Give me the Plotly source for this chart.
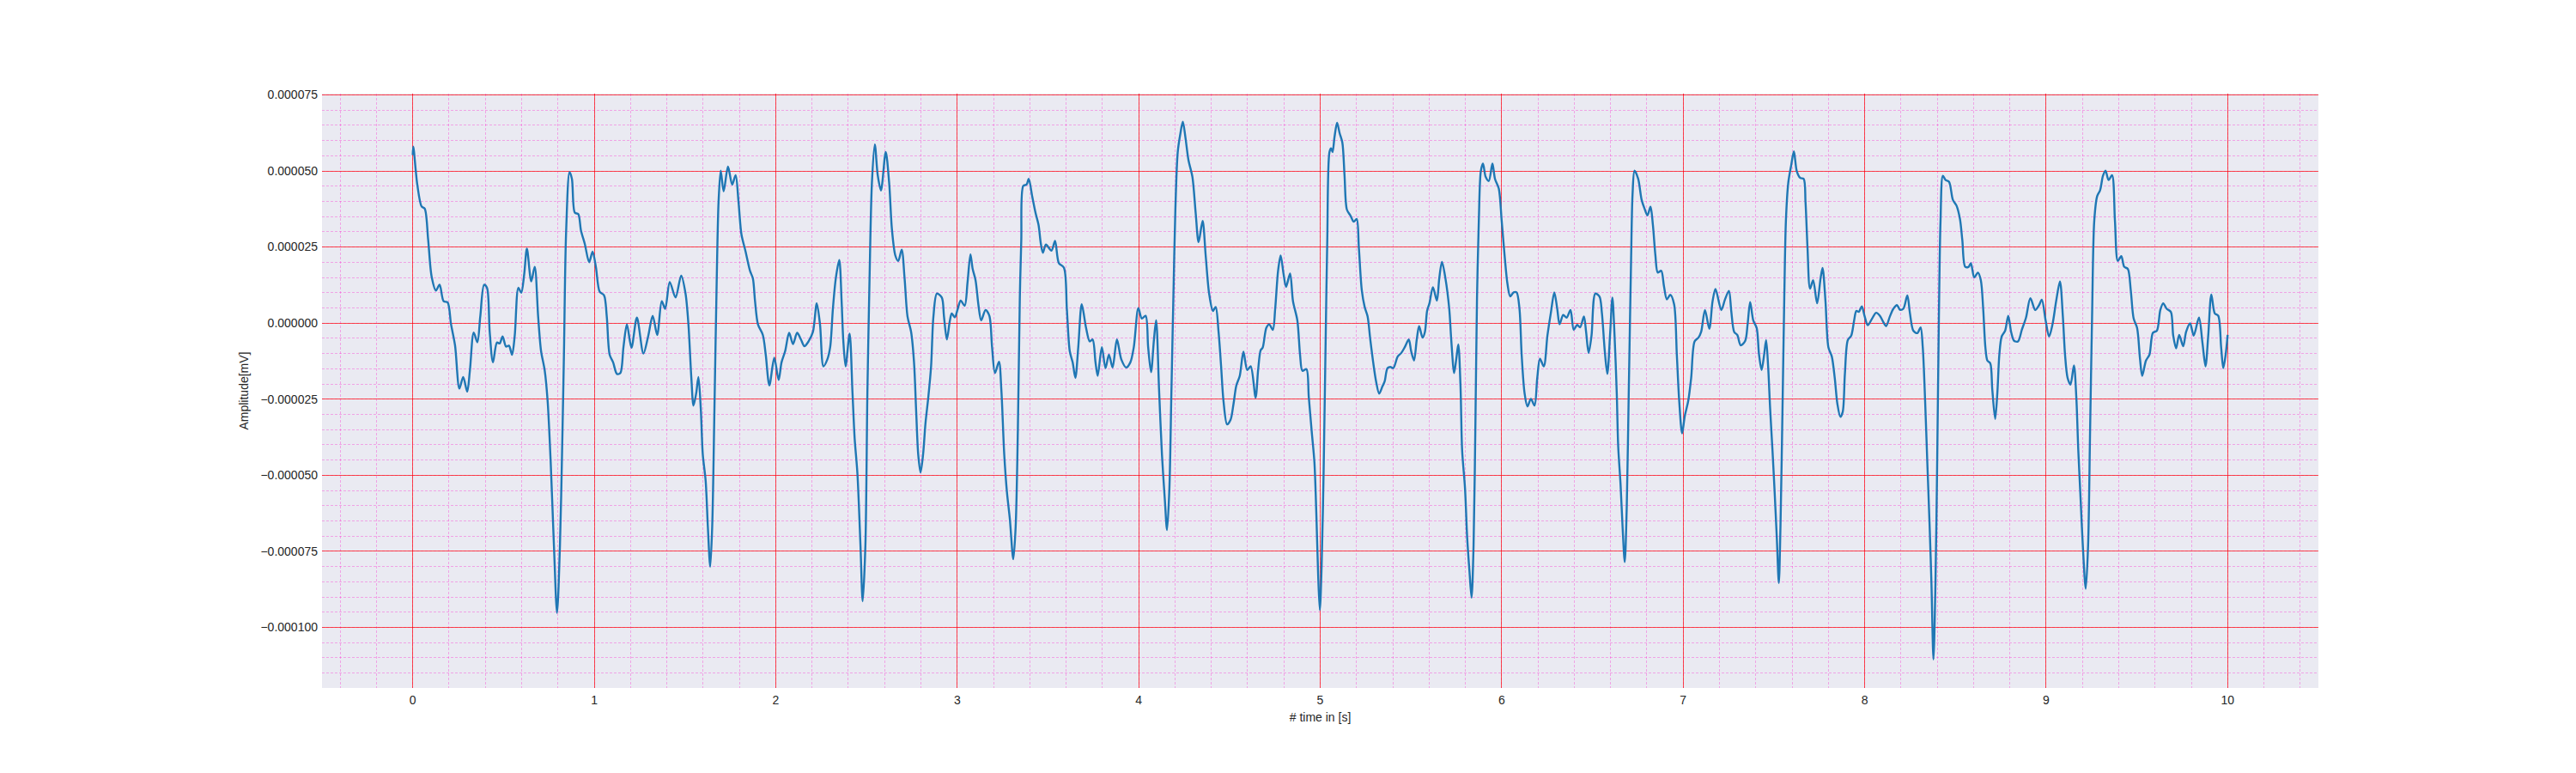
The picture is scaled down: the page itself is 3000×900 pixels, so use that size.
import plotly.graph_objects as go

# ECG trace; amplitude in units of 1e-6 mV
time_s = [
    0.000, 0.003, 0.025, 0.049, 0.066, 0.085, 0.104, 0.128, 0.148, 0.170,
    0.192, 0.211, 0.233, 0.257, 0.278, 0.300, 0.315, 0.336, 0.356, 0.372,
    0.393, 0.409, 0.424, 0.442, 0.464, 0.479, 0.495, 0.514, 0.530, 0.547,
    0.562, 0.582, 0.598, 0.614, 0.629, 0.653, 0.672, 0.691, 0.707, 0.727,
    0.743, 0.760, 0.778, 0.795, 0.811, 0.823, 0.833, 0.845, 0.864, 0.877,
    0.893, 0.912, 0.927, 0.948, 0.972, 0.991, 1.009, 1.030,
    1.054, 1.069, 1.085, 1.104, 1.125, 1.144, 1.161, 1.180, 1.205, 1.235,
    1.271, 1.298, 1.322, 1.347, 1.372, 1.391, 1.416, 1.448, 1.479, 1.503,
    1.519, 1.535, 1.547, 1.562, 1.574, 1.587, 1.598, 1.614, 1.626, 1.639,
    1.650, 1.662, 1.675, 1.685, 1.697, 1.713, 1.737, 1.760, 1.779, 1.795,
    1.811, 1.834, 1.858, 1.874, 1.886, 1.902, 1.929, 1.945, 1.965, 1.992,
    2.016, 2.032, 2.052, 2.074, 2.095, 2.118, 2.139, 2.158, 2.181, 2.205,
    2.226, 2.244, 2.263, 2.284, 2.300, 2.315, 2.331, 2.350,
    2.363, 2.372, 2.385, 2.407, 2.423, 2.435, 2.450, 2.467, 2.479, 2.494,
    2.505, 2.517, 2.530, 2.546, 2.562, 2.580, 2.606, 2.625, 2.640, 2.659,
    2.675, 2.694, 2.710, 2.726, 2.746, 2.762, 2.774, 2.785, 2.798, 2.812,
    2.825, 2.841, 2.856, 2.869, 2.888, 2.915, 2.927, 2.943, 2.959, 2.970,
    2.987, 3.003, 3.019, 3.041, 3.057, 3.073, 3.085, 3.101, 3.117, 3.132,
    3.156, 3.177, 3.192, 3.208, 3.230, 3.243, 3.259, 3.274, 3.290, 3.309,
    3.322, 3.334, 3.345, 3.353, 3.364, 3.382, 3.394, 3.413, 3.432, 3.448,
    3.461, 3.472, 3.489,
    3.519, 3.539, 3.560, 3.588, 3.604, 3.620, 3.636, 3.651, 3.667, 3.686,
    3.710, 3.730, 3.746, 3.762, 3.774, 3.797, 3.817, 3.836, 3.856, 3.880,
    3.904, 3.931, 3.954, 3.973, 3.998, 4.017, 4.038, 4.052, 4.068, 4.084,
    4.096, 4.112, 4.128, 4.144, 4.156, 4.169, 4.180, 4.191, 4.202, 4.215,
    4.230, 4.243, 4.257, 4.274, 4.296, 4.314, 4.330, 4.352, 4.369, 4.388,
    4.409, 4.424, 4.440, 4.454, 4.467, 4.487, 4.506, 4.522, 4.538, 4.557,
    4.577, 4.598, 4.617, 4.644, 4.658, 4.672, 4.683, 4.703, 4.719,
    4.739, 4.752, 4.768, 4.782, 4.798, 4.812, 4.834, 4.850, 4.874, 4.889,
    4.902, 4.924, 4.937, 4.953, 4.968, 4.979, 4.989, 4.998, 5.008, 5.019,
    5.032, 5.039, 5.051, 5.060, 5.068, 5.079, 5.093, 5.107, 5.122, 5.134,
    5.147, 5.166, 5.185, 5.201, 5.213, 5.229, 5.245, 5.261, 5.276, 5.292,
    5.308, 5.325, 5.343, 5.355, 5.371, 5.387, 5.403, 5.427, 5.447, 5.466,
    5.488, 5.501, 5.517, 5.532, 5.545, 5.564, 5.577, 5.589, 5.602, 5.621,
    5.643, 5.656, 5.671, 5.690, 5.711, 5.722, 5.738, 5.750, 5.761, 5.773,
    5.782, 5.798, 5.810, 5.823, 5.834, 5.845, 5.856, 5.864, 5.874, 5.885,
    5.897, 5.912, 5.929, 5.949, 5.963,
    5.984, 6.000, 6.016, 6.032, 6.047, 6.066, 6.082, 6.098, 6.110, 6.126,
    6.142, 6.161, 6.181, 6.196, 6.211, 6.232, 6.252, 6.271, 6.290, 6.306,
    6.319, 6.339, 6.358, 6.379, 6.397, 6.416, 6.432, 6.453, 6.465, 6.479,
    6.495, 6.516, 6.539, 6.552, 6.568, 6.582, 6.598, 6.610, 6.621, 6.634,
    6.642, 6.655, 6.666, 6.678, 6.689, 6.700, 6.713, 6.721, 6.732, 6.752,
    6.771, 6.787, 6.803, 6.820, 6.833, 6.847, 6.860, 6.879, 6.894, 6.910,
    6.929, 6.950, 6.965, 6.978, 6.994, 7.009, 7.028, 7.044, 7.063, 7.084,
    7.099, 7.120, 7.144, 7.162, 7.178, 7.210, 7.230, 7.252, 7.265, 7.281,
    7.298, 7.317, 7.342, 7.355, 7.369, 7.386, 7.405, 7.418, 7.432, 7.446,
    7.457, 7.468, 7.479, 7.492, 7.503, 7.516, 7.527, 7.536, 7.547, 7.557,
    7.566, 7.579, 7.595, 7.610, 7.626, 7.645, 7.664, 7.674, 7.685, 7.699,
    7.716, 7.738, 7.757, 7.768, 7.784, 7.800, 7.819, 7.835, 7.850, 7.866,
    7.879, 7.891, 7.907, 7.926, 7.942, 7.954, 7.968, 7.984, 8.000, 8.017,
    8.041, 8.063, 8.084, 8.103, 8.118, 8.139, 8.158, 8.178, 8.194, 8.213,
    8.235, 8.249, 8.268, 8.290, 8.308, 8.320, 8.333, 8.345, 8.358, 8.368,
    8.379, 8.390, 8.399, 8.409, 8.418, 8.431, 8.446, 8.465, 8.486, 8.506,
    8.525, 8.538, 8.554, 8.573, 8.585, 8.604,
    8.624, 8.640, 8.653, 8.665, 8.676, 8.692, 8.703, 8.719, 8.731, 8.742,
    8.755, 8.774, 8.791, 8.807, 8.823, 8.845, 8.866, 8.889, 8.913, 8.940,
    8.961, 8.976, 8.997, 9.016, 9.035, 9.055, 9.076, 9.092, 9.104, 9.118,
    9.134, 9.153, 9.166, 9.177, 9.190, 9.202, 9.218, 9.231, 9.242, 9.253,
    9.265, 9.281, 9.297, 9.313, 9.327, 9.344, 9.363, 9.379, 9.395, 9.414,
    9.430, 9.450, 9.466, 9.482, 9.501, 9.517, 9.529, 9.550, 9.569, 9.588,
    9.610, 9.629, 9.645, 9.664, 9.687, 9.700, 9.716, 9.733, 9.755, 9.771,
    9.793, 9.813, 9.842, 9.861, 9.878, 9.893, 9.910, 9.929, 9.948, 9.964,
    9.976, 9.989, 10.000,
]

amplitude_e6 = [
    55.2, 58.0, 45.5, 38.3, 37.6, 27.3, 15.3, 10.7, 12.6, 7.2,
    6.8, -0.4, -7.3, -21.5, -17.7, -22.5, -15.5, -3.1, -6.3, 2.1,
    12.6, 11.6, -2.9, -12.9, -6.4, -6.7, -4.4, -7.7, -7.4, -10.4,
    -4.1, 11.6, 10.0, 16.0, 24.5, 13.7, 18.5, 2.1, -9.2, -15.5,
    -25.5, -45.6, -73.2, -95.2, -73.2, -41.8, -10.4, 29.8, 49.6, 47.4,
    36.3, 35.8, 30.4, 26.0, 20.0, 23.5, 18.5, 10.3,
    9.1, 2.2, -10.4, -12.9, -16.7, -16.4, -7.9, -0.4, -8.1, 1.8,
    -10.0, -4.1, 2.4, -3.9, 7.2, 4.7, 13.5, 8.4, 15.6, 9.7,
    -0.4, -18.0, -27.1, -23.0, -17.7, -28.0, -43.1, -51.9, -66.9, -80.1,
    -66.9, -29.2, 14.7, 39.8, 50.1, 43.3, 51.4, 45.5, 48.6, 39.8,
    29.2, 23.5, 17.2, 14.7, 7.2, -0.4, -3.9, -10.4, -20.5, -11.4,
    -18.7, -12.9, -9.2, -3.2, -6.9, -3.2, -5.4, -7.6, -6.0, -2.9,
    6.5, -0.4, -14.2, -12.0, -7.9, 4.7, 14.7, 20.7,
    7.2, -5.4, -14.2, -3.5, -23.0, -38.0, -49.3, -73.2, -91.4, -73.2,
    -23.0, 14.7, 46.1, 58.7, 48.6, 43.6, 56.2, 46.1, 31.0, 22.2,
    20.4, 24.1, 14.7, 2.2, -2.9, -12.9, -29.2, -43.1, -49.1, -43.1,
    -33.0, -24.2, -14.2, 2.2, 9.7, 8.4, 2.2, -5.4, 0.6, 3.2,
    1.9, 4.7, 7.4, 5.7, 13.5, 22.6, 17.8, 14.1, 5.9, 0.9,
    4.3, 2.4, -7.9, -16.4, -12.7, -21.7, -43.1, -55.6, -64.4, -77.6,
    -66.9, -35.5, 8.4, 27.3, 45.1, 45.5, 47.4, 41.7, 36.1, 32.3,
    26.0, 23.1, 25.8,
    23.8, 27.0, 19.7, 18.2, 4.7, -9.2, -12.9, -18.0, -7.9, 6.2,
    -1.6, -6.0, -5.4, -12.9, -17.3, -7.9, -14.8, -10.4, -14.6, -5.4,
    -11.9, -14.6, -12.9, -7.9, 4.9, 1.5, 2.4, -7.9, -16.1, -5.4,
    0.9, -21.7, -43.1, -58.1, -68.0, -54.4, -23.0, 8.4, 37.3, 56.2,
    62.4, 66.2, 61.2, 53.6, 48.0, 36.1, 26.6, 33.6, 22.2, 9.7,
    4.0, 5.3, -2.9, -14.2, -25.5, -33.3, -31.8, -26.7, -20.5, -17.3,
    -9.4, -15.4, -14.2, -24.5, -15.4, -8.9, -8.1, -1.6, -0.4,
    -2.2, 4.7, 17.2, 22.2, 16.2, 11.9, 16.3, 7.2, 0.9, -10.4,
    -15.7, -15.1, -24.2, -35.5, -45.6, -63.2, -83.3, -94.3, -79.5, -48.1,
    2.2, 27.3, 56.2, 57.4, 56.2, 61.2, 65.8, 62.4, 59.3, 48.6,
    37.3, 35.4, 33.3, 34.2, 24.8, 10.9, 5.3, 2.2, -5.4, -12.9,
    -19.2, -23.2, -20.8, -19.2, -14.8, -14.4, -14.8, -11.0, -9.8, -7.9,
    -5.4, -9.2, -12.3, -5.4, -1.0, -4.8, -2.9, 4.0, 6.5, 11.8,
    7.4, 14.7, 20.1, 14.7, 4.7, -5.4, -16.4, -11.7, -7.0, -20.5,
    -41.8, -54.4, -70.7, -82.0, -90.2, -73.2, -29.2, 8.4, 33.6, 49.9,
    52.4, 48.0, 46.7, 52.4, 47.4,
    44.2, 33.6, 22.2, 12.8, 8.8, 10.1, 10.1, 4.7, -10.4, -23.0,
    -27.4, -24.9, -27.1, -18.0, -11.7, -14.2, -4.1, 3.4, 10.1, 4.7,
    -0.4, 2.7, 1.8, 4.3, -2.2, -0.6, -1.4, 2.2, -2.9, -9.8,
    -4.1, 9.7, 8.7, 3.4, -9.2, -16.7, -2.9, 8.4, -2.9, -23.0,
    -40.6, -53.1, -66.9, -78.5, -60.6, -23.0, 21.0, 42.3, 50.1, 47.4,
    40.5, 37.6, 35.4, 38.2, 32.3, 22.2, 16.6, 17.2, 12.2, 7.8,
    9.3, 6.2, -10.4, -25.5, -36.2, -30.5, -25.5, -18.0, -6.0, -4.8,
    -2.9, 4.3, -1.9, 7.2, 11.2, 4.3, 7.7, 10.6, 3.9, -2.9,
    -3.9, -7.3, -5.8, -0.4, 6.9, 0.9, -1.6, -10.4, -15.4, -10.4,
    -5.6, -14.2, -28.0, -41.8, -54.4, -70.7, -85.4, -66.9, -29.2, 8.4,
    33.6, 46.1, 51.8, 56.4, 49.9, 47.7, 47.4, 39.8, 24.8, 11.3,
    14.1, 6.5, 14.7, 18.1, 7.2, -7.9, -11.0, -18.0, -26.7, -30.8,
    -29.2, -16.7, -5.6, -4.1, 0.9, 4.0, 3.7, 5.5, 2.2, -0.7,
    1.5, 3.4, 2.4, 0.3, -1.0, 2.2, 4.7, 5.9, 4.4, 4.7,
    9.1, 3.4, -2.5, -3.3, -1.4, -7.9, -25.5, -45.6, -66.9, -85.7,
    -110.5, -85.7, -48.1, 2.2, 33.6, 48.4, 47.0, 46.4, 40.5, 38.6,
    34.2, 27.3, 18.5, 18.5, 19.7, 15.0,
    16.6, 14.1, 4.7, -7.9, -12.3, -13.2, -21.7, -31.5, -23.0, -10.4,
    -4.4, -2.5, 2.4, -2.9, -5.8, -6.0, -2.2, 1.8, 8.2, 4.3,
    5.9, 7.7, 0.9, -4.4, -0.4, 7.2, 13.7, 2.2, -10.4, -18.0,
    -20.2, -13.9, -24.2, -41.8, -58.1, -73.2, -87.3, -73.2, -35.5, 2.2,
    33.6, 41.7, 43.6, 48.4, 50.1, 47.0, 48.6, 33.6, 20.4, 22.0,
    18.5, 17.8, 10.9, 1.5, -1.6, -11.7, -17.3, -12.3, -10.4, -3.2,
    -2.5, 4.3, 6.5, 4.7, 3.7, -4.1, -8.3, -3.9, -7.6, -2.9,
    -0.1, -4.1, 1.8, -6.4, -14.2, -4.1, 9.4, 3.2, 2.4, -7.9,
    -14.8, -10.4, -3.9,
]

x_ticks = [0, 1, 2, 3, 4, 5, 6, 7, 8, 9, 10]
y_ticks = [-0.0001, -0.000075, -0.00005, -0.000025, 0.0, 0.000025, 0.00005, 0.000075]
y_ticktext = [f"{v:.6f}".replace("-", "\u2212") for v in y_ticks]

amplitude = [v * 1e-6 for v in amplitude_e6]

FONT = "Liberation Sans, Arial, sans-serif"
MAJOR = "rgba(255,0,0,0.68)"
MINOR = "rgba(255,0,200,0.3)"

fig = go.Figure()
fig.add_trace(go.Scatter(
    x=time_s,
    y=amplitude,
    mode="lines",
    line={"color": "#1f77b4", "width": 2.4, "shape": "spline", "smoothing": 0.85},
    showlegend=False,
))

# the page body keeps its default 8px margin, so the figure is 16px smaller
fig.update_layout(
    width=2984,
    height=884,
    margin={"l": 367, "r": 292, "t": 101, "b": 91},
    paper_bgcolor="white",
    plot_bgcolor="#EAEAF2",
    font={"family": FONT, "size": 14, "color": "#262626"},
    showlegend=False,
)

fig.update_xaxes(
    range=[-0.5, 10.5],
    tickmode="array",
    tickvals=x_ticks,
    ticktext=[str(t) for t in x_ticks],
    showgrid=True,
    gridcolor=MAJOR,
    gridwidth=1,
    zeroline=False,
    showline=False,
    ticks="",
    ticklabelstandoff=4,
    minor={"tickmode": "linear", "tick0": 0, "dtick": 0.2, "showgrid": True,
           "gridcolor": MINOR, "gridwidth": 1, "griddash": "3px,2px", "ticks": ""},
    title={"text": "# time in [s]", "standoff": 8, "font": {"size": 14}},
)

fig.update_yaxes(
    range=[-0.0001199, 0.0000754],
    tickmode="array",
    tickvals=y_ticks,
    ticktext=y_ticktext,
    showgrid=True,
    gridcolor=MAJOR,
    gridwidth=1,
    zeroline=False,
    showline=False,
    ticks="",
    ticklabelstandoff=4,
    minor={"tickmode": "linear", "tick0": 0, "dtick": 0.000005, "showgrid": True,
           "gridcolor": MINOR, "gridwidth": 1, "griddash": "3px,2px", "ticks": ""},
    title={"text": "Amplitude[mV]", "standoff": 10, "font": {"size": 14}},
)

fig.write_html("out.html")
